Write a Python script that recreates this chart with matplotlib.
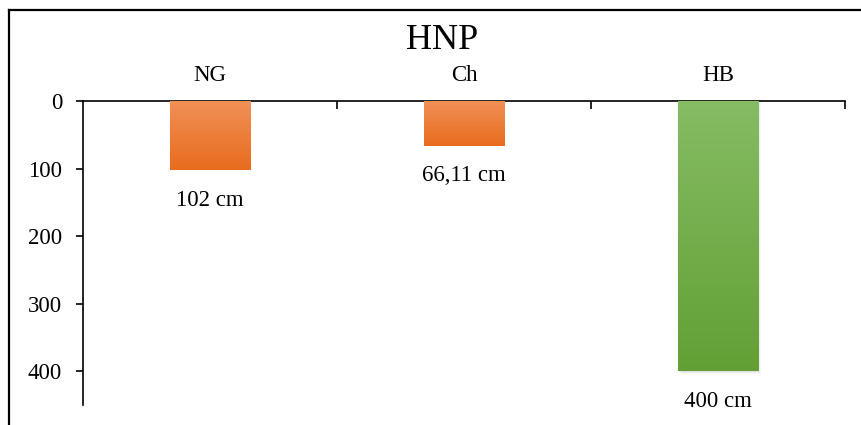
import numpy as np
import matplotlib.pyplot as plt
from matplotlib.colors import LinearSegmentedColormap
from matplotlib.lines import Line2D

plt.rcParams['font.family'] = ['Liberation Serif', 'DejaVu Serif']

categories = ['NG', 'Ch', 'HB']
depths = [102, 66.11, 400]
labels = ['102 cm', '66,11 cm', '400 cm']
y_ticks = [0, 100, 200, 300, 400]
top_colors = ['#f19057', '#f19057', '#86bc64']
bottom_colors = ['#e86c1d', '#e86c1d', '#62a035']
shadowed = [False, False, True]

fig = plt.figure(figsize=(8.61, 4.25), dpi=100)
ax = fig.add_axes([0.0964, 0.047, 0.885, 0.715])

x = np.arange(len(categories))
width = 0.315
bars = ax.bar(x, depths, width=width, color='none', zorder=3)

grad = np.linspace(0, 1, 256).reshape(-1, 1)
for bar, c0, c1, sh in zip(bars, top_colors, bottom_colors, shadowed):
    x0 = bar.get_x()
    h = bar.get_height()
    w = bar.get_width()
    if sh:
        # soft drop shadow on the right and bottom
        for i, a in enumerate([0.05, 0.04, 0.03]):
            d = 0.004 * (i + 1)
            ax.add_patch(plt.Rectangle((x0 + d, 0), w, h + 1.5 * (i + 1),
                                       color='black', alpha=a, lw=0, zorder=2))
    cmap = LinearSegmentedColormap.from_list('g', [c0, c1])
    im = ax.imshow(grad, cmap=cmap, aspect='auto', extent=(x0, x0 + w, h, 0),
                   zorder=3)
    im.set_clip_path(bar)

for xi, d, lab in zip(x, depths, labels):
    ax.annotate(lab, (xi, d), xytext=(0, -21.6), textcoords='offset points',
                ha='center', va='center', fontsize=16.5)

ax.set_xlim(-0.5, len(categories) - 0.5)
ax.set_ylim(450, 0)
ax.set_yticks(y_ticks)
ax.set_yticklabels([str(v) for v in y_ticks])

ax.xaxis.tick_top()
ax.set_xticks(x)
ax.set_xticklabels(categories)
ax.set_xticks(np.arange(len(categories)) + 0.5, minor=True)
ax.tick_params(axis='x', which='major', length=0, pad=11, labelsize=16.5)
ax.tick_params(axis='x', which='minor', direction='in', length=6, width=1.2)
ax.tick_params(axis='y', which='major', direction='out', length=5, width=1.2,
               labelsize=16.5, pad=10)

for s in ['bottom', 'right']:
    ax.spines[s].set_visible(False)
for s in ['top', 'left']:
    ax.spines[s].set_linewidth(1.2)
ax.set_facecolor('none')

fig.text(0.5135, 0.905, 'HNP', ha='center', va='center', fontsize=26)

# outer chart frame
fig.add_artist(Line2D([9 / 861, 1], [1 - 10 / 425] * 2, color='black', lw=1.6))
fig.add_artist(Line2D([9 / 861] * 2, [0, 1 - 10 / 425], color='black', lw=1.6))

fig.savefig('out.png', dpi=100)
